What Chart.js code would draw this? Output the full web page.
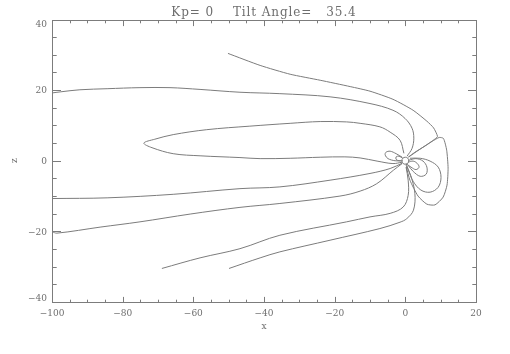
<!DOCTYPE html>
<html>
<head>
<meta charset="utf-8">
<script src="https://cdn.jsdelivr.net/npm/chart.js@4"></script>
<style>
  html, body { margin: 0; padding: 0; background: #fff; }
  canvas { display: block; }
</style>
</head>
<body>
<canvas id="chart" width="510" height="354"></canvas>
<script>
const titleText = 'Kp= 0    Tilt Angle=   35.4';
const xTitle = 'x';
const zTitle = 'z';

const xMajor = [-100, -80, -60, -40, -20, 0, 20];
const xMinor = [-95, -90, -85, -75, -70, -65, -55, -50, -45, -35, -30, -25, -15, -10, -5, 5, 10, 15];
const zMajor = [-40, -20, 0, 20, 40];
const zMinor = [-35, -30, -25, -15, -10, -5, 5, 10, 15, 25, 30, 35];

// field lines, [x, z] in Earth radii
const lineTopTail = [[-50.2, 30.4], [-41.1, 27.0], [-32.6, 24.5], [-24.1, 22.8], [-15.6, 21.0], [-10.0, 19.7],
  [-3.5, 17.4], [2.2, 14.3], [6.1, 11.2], [8.0, 9.3], [9.1, 6.9], [8.3, 6.1], [5.6, 4.2], [2.7, 2.4], [0.8, 1.0]];
const lineNorth20 = [[-100, 19.2], [-97.7, 19.5], [-92.1, 20.1], [-84.4, 20.4], [-75.1, 20.7], [-66.6, 20.7],
  [-58.1, 20.2], [-46.8, 19.4], [-35.5, 19.0], [-21.3, 18.1], [-10.0, 16.2], [-3.5, 14.3], [-0.1, 12.0],
  [1.9, 9.2], [2.4, 6.4], [1.9, 3.5], [0.5, 1.3]];
const lineClosedTail = [[-0.4, 2.1], [-1.5, 5.8], [-4.3, 8.1], [-7.2, 9.6], [-12.8, 10.6], [-16.6, 11.0],
  [-24.1, 11.1], [-32.6, 10.6], [-44.0, 9.8], [-56.2, 8.8], [-65.7, 7.4], [-70.9, 6.1], [-74.0, 5.0],
  [-71.7, 3.7], [-65.7, 2.0], [-58.1, 1.4], [-46.8, 0.9], [-41.1, 0.6], [-32.6, 0.7], [-24.1, 1.0],
  [-17.1, 1.1], [-12.8, 0.8], [-8.0, -0.1], [-3.5, -0.8], [-0.9, -0.4]];
const lineSouth10 = [[-100, -10.7], [-84.4, -10.5], [-65.7, -9.5], [-46.8, -7.9], [-35.5, -7.4], [-21.3, -5.5],
  [-10.0, -3.6], [-4.3, -2.2], [-0.9, -0.7]];
const lineSouth20 = [[-100, -20.1], [-98.6, -20.5], [-86.4, -18.8], [-75.1, -17.3], [-60.9, -15.1], [-46.8, -13.2],
  [-35.5, -12.1], [-18.5, -10.0], [-12.8, -8.6], [-8.1, -6.5], [-3.4, -2.7], [-0.9, -0.8]];
const lineSouth30a = [[-68.9, -30.5], [-58.1, -27.5], [-46.8, -24.9], [-35.5, -21.1], [-16.6, -17.3], [-10.0, -15.9],
  [-4.3, -14.9], [-0.6, -13.1], [0.8, -9.8], [0.8, -5.5], [0.2, -1.8]];
const lineSouth30b = [[-49.9, -30.5], [-41.1, -27.5], [-35.5, -25.8], [-21.3, -22.5], [-7.2, -19.2], [-1.5, -17.4],
  [0.4, -16.4], [2.3, -14.0], [2.7, -9.2], [1.5, -4.1], [0.2, -1.3]];
const loopDayOuter = [[1.0, 1.1], [4.2, 3.3], [7.6, 5.5], [9.6, 6.6], [10.8, 6.3], [11.7, 3.0], [12.1, -2.1],
  [11.8, -6.9], [10.7, -10.3], [8.4, -12.5], [6.1, -12.3], [3.6, -10.0], [1.3, -5.5], [0.3, -1.8]];
const loopDayInner = [[1.3, 0.7], [4.2, 0.7], [7.0, -0.1], [9.3, -1.8], [10.1, -4.7], [9.3, -7.5], [7.0, -8.9],
  [4.4, -8.3], [2.2, -5.8], [0.8, -2.4], [0.2, -0.7]];
const loopDayMid = [[0.8, 0.1], [3.0, 0.6], [5.0, -0.1], [6.1, -1.8], [5.9, -3.8], [4.2, -4.4], [2.2, -3.0], [0.8, -1.3]];
const loopDaySmall = [[0.8, -0.4], [2.2, -0.1], [3.3, -0.7], [3.9, -1.8], [3.0, -2.5], [1.6, -1.8], [0.5, -1.0]];
const loopNightMid = [[-0.9, 1.0], [-2.6, 2.0], [-4.3, 2.7], [-5.5, 2.4], [-5.7, 1.6], [-4.9, 0.6], [-2.9, 0.0], [-1.2, 0.0]];
const loopNightSmall = [[-0.7, 0.7], [-1.8, 1.3], [-2.6, 1.1], [-2.6, 0.4], [-1.8, 0.0], [-0.7, 0.0]];
const earth = [[1, 0], [0.71, 0.71], [0, 1], [-0.71, 0.71], [-1, 0], [-0.71, -0.71], [0, -1], [0.71, -0.71], [1, 0]];

const fieldLines = [lineTopTail, lineNorth20, lineClosedTail, lineSouth10, lineSouth20, lineSouth30a, lineSouth30b,
  loopDayOuter, loopDayInner, loopDayMid, loopDaySmall, loopNightMid, loopNightSmall, earth];
// lines with a cusp get a tighter curve
const cuspLines = [lineTopTail, loopDayOuter];

const lineColor = '#7c7c7c';
const textColor = '#6e6e6e';
const serif = '"DejaVu Serif", serif';

function fmt(v) {
    return v < 0 ? '\u2212' + Math.abs(v) : String(v);
}

// IDL-style frame: box, inward ticks on all sides, labels
const idlAxes = {
    id: 'idlAxes',
    afterDraw(chart) {
        const ctx = chart.ctx;
        const a = chart.chartArea;
        const xs = chart.scales.x, ys = chart.scales.y;
        const L = Math.round(a.left) + 0.5, R = Math.round(a.right) + 0.5;
        const T = Math.round(a.top) + 0.5, B = Math.round(a.bottom) + 0.5;
        ctx.save();
        ctx.strokeStyle = lineColor;
        ctx.lineWidth = 1;
        ctx.strokeRect(L, T, R - L, B - T);

        ctx.beginPath();
        const xTick = (v, len) => {
            const px = Math.round(xs.getPixelForValue(v)) + 0.5;
            ctx.moveTo(px, B); ctx.lineTo(px, B - len);
            ctx.moveTo(px, T); ctx.lineTo(px, T + len);
        };
        const yTick = (v, len) => {
            const py = Math.round(ys.getPixelForValue(v)) + 0.5;
            ctx.moveTo(L, py); ctx.lineTo(L + len, py);
            ctx.moveTo(R, py); ctx.lineTo(R - len, py);
        };
        xMajor.forEach(v => xTick(v, 5.6));
        xMinor.forEach(v => xTick(v, 2.8));
        zMajor.forEach(v => yTick(v, 8.5));
        zMinor.forEach(v => yTick(v, 4.2));
        ctx.stroke();

        ctx.fillStyle = textColor;
        ctx.font = '9px ' + serif;
        ctx.textAlign = 'center';
        ctx.textBaseline = 'middle';
        xMajor.forEach(v => ctx.fillText(fmt(v), xs.getPixelForValue(v), a.bottom + 11.5));
        ctx.textAlign = 'right';
        zMajor.forEach(v => {
            let py = ys.getPixelForValue(v) + 1;
            py = Math.min(Math.max(py, a.top + 5), a.bottom - 3);
            ctx.fillText(fmt(v), a.left - 5, py);
        });

        ctx.textAlign = 'center';
        ctx.fillText(xTitle, (a.left + a.right) / 2, a.bottom + 25);
        ctx.save();
        ctx.translate(15, (a.top + a.bottom) / 2);
        ctx.rotate(-Math.PI / 2);
        ctx.fillText(zTitle, 0, 0);
        ctx.restore();

        ctx.font = '12px ' + serif;
        ctx.letterSpacing = '0.9px';
        ctx.fillText(titleText, (a.left + a.right) / 2, 12.5);
        ctx.restore();
    }
};

new Chart(document.getElementById('chart'), {
    type: 'scatter',
    data: {
        datasets: fieldLines.map(pts => ({
            data: pts.map(p => ({ x: p[0], y: p[1] })),
            showLine: true,
            borderColor: lineColor,
            borderWidth: 1,
            pointRadius: 0,
            tension: cuspLines.includes(pts) ? 0.2 : 0.35,
            fill: false
        }))
    },
    options: {
        responsive: false,
        animation: false,
        devicePixelRatio: 1,
        layout: { padding: { left: 52, right: 34, top: 19.5, bottom: 52 } },
        plugins: { legend: { display: false }, tooltip: { enabled: false } },
        scales: {
            x: { type: 'linear', min: -100, max: 20, display: false },
            y: { type: 'linear', min: -40, max: 40, display: false }
        }
    },
    plugins: [idlAxes]
});
</script>
</body>
</html>
